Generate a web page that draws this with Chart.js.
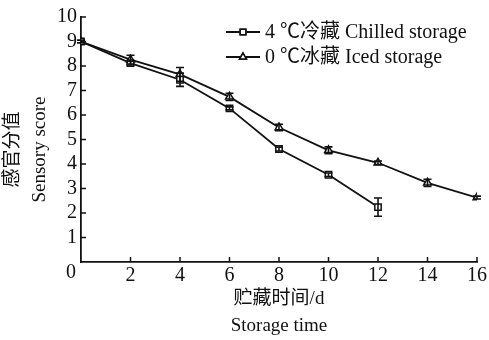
<!DOCTYPE html>
<html>
<head>
<meta charset="utf-8">
<script src="https://cdn.jsdelivr.net/npm/chart.js@4/dist/chart.umd.min.js"></script>
<style>
  html, body { margin: 0; padding: 0; background: #fff; }
  #wrap { width: 489px; height: 340px; }
</style>
</head>
<body>
<div id="wrap"><canvas id="sensoryChart"></canvas></div>
<script>
// data
const days = [0, 2, 4, 6, 8, 10, 12, 14, 16];
const chilledScore = [9.0, 8.12, 7.44, 6.27, 4.61, 3.56, 2.24];
const chilledErr = [0.05, 0.08, 0.27, 0.06, 0.08, 0.07, 0.37];
const icedScore = [9.0, 8.26, 7.66, 6.74, 5.49, 4.56, 4.05, 3.23, 2.63];
const icedErr = [0.05, 0.18, 0.28, 0.15, 0.13, 0.14, 0.07, 0.15, 0.06];
const seriesLabels = ["4 ℃冷藏 Chilled storage", "0 ℃冰藏 Iced storage"];
const yTitle = ["感官分值", "Sensory score"];
const xTicks = [0, 2, 4, 6, 8, 10, 12, 14, 16];
const yTicks = [0, 1, 2, 3, 4, 5, 6, 7, 8, 9, 10];

const FONT = "'Liberation Serif', 'Noto Sans CJK SC', serif";
const INK = "#111";

function toPoints(vals) {
  return vals.map((v, i) => ({ x: days[i], y: v }));
}

// error bars, inside ticks, corner "0", y title and the legend
const extrasPlugin = {
  id: "extras",
  afterDatasetsDraw(chart) {
    const ctx = chart.ctx;
    const xs = chart.scales.x, ys = chart.scales.y;
    const area = chart.chartArea;
    ctx.save();
    ctx.strokeStyle = INK;
    ctx.lineWidth = 1.6;

    // error bars
    [chilledErr, icedErr].forEach((errs, di) => {
      const vals = di === 0 ? chilledScore : icedScore;
      errs.forEach((e, i) => {
        const px = xs.getPixelForValue(days[i]);
        const top = ys.getPixelForValue(vals[i] + e);
        const bot = ys.getPixelForValue(vals[i] - e);
        ctx.beginPath();
        ctx.moveTo(px, top); ctx.lineTo(px, bot);
        ctx.moveTo(px - 4, top); ctx.lineTo(px + 4, top);
        ctx.moveTo(px - 4, bot); ctx.lineTo(px + 4, bot);
        ctx.stroke();
      });
    });

    // inward tick marks
    ctx.lineWidth = 1.5;
    xTicks.slice(1).forEach(t => {
      const px = xs.getPixelForValue(t);
      ctx.beginPath();
      ctx.moveTo(px, area.bottom); ctx.lineTo(px, area.bottom - 5);
      ctx.stroke();
    });
    yTicks.slice(1).forEach(t => {
      const py = ys.getPixelForValue(t);
      ctx.beginPath();
      ctx.moveTo(area.left, py); ctx.lineTo(area.left + 5, py);
      ctx.stroke();
    });

    // shared origin label
    ctx.fillStyle = INK;
    ctx.font = "20px " + FONT;
    ctx.textAlign = "center";
    ctx.textBaseline = "middle";
    ctx.fillText("0", area.left - 10, area.bottom + 11);

    // y title, two rotated lines
    ctx.save();
    ctx.translate(0, (area.top + area.bottom) / 2 + 10);
    ctx.rotate(-Math.PI / 2);
    ctx.font = "19px " + FONT;
    ctx.fillText(yTitle[0], 0, 13);
    ctx.fillText(yTitle[1], 0, 40);
    ctx.restore();

    // legend
    const lx = 226, rowY = [32, 57];
    ctx.font = "20px " + FONT;
    chart.data.datasets.forEach((ds, i) => {
      const y = rowY[i];
      ctx.beginPath();
      ctx.lineWidth = 1.8;
      ctx.moveTo(lx, y); ctx.lineTo(lx + 34, y);
      ctx.stroke();
      ctx.lineWidth = 1.5;
      Chart.helpers.drawPoint(ctx, {
        pointStyle: ds.pointStyle, radius: ds.pointRadius - 0.5,
        borderWidth: 1.5
      }, lx + 17, y);
      ctx.fillStyle = "#fff";
      ctx.fill();
      ctx.stroke();
      ctx.fillStyle = INK;
      ctx.textAlign = "left";
      ctx.fillText(ds.label, lx + 39, y + 1);
    });
    ctx.restore();
  }
};

const ctx = document.getElementById("sensoryChart").getContext("2d");
new Chart(ctx, {
  type: "line",
  data: {
    datasets: [{
      label: seriesLabels[0],
      data: toPoints(chilledScore),
      borderColor: INK,
      borderWidth: 1.8,
      pointStyle: "rect",
      pointRadius: 4.5,
      pointBackgroundColor: "#fff",
      pointBorderColor: INK,
      pointBorderWidth: 1.5,
      tension: 0
    }, {
      label: seriesLabels[1],
      data: toPoints(icedScore),
      borderColor: INK,
      borderWidth: 1.8,
      pointStyle: "triangle",
      pointRadius: 4.5,
      pointBackgroundColor: "#fff",
      pointBorderColor: INK,
      pointBorderWidth: 1.5,
      tension: 0
    }]
  },
  options: {
    responsive: true,
    maintainAspectRatio: false,
    animation: false,
    layout: { padding: { top: 17, right: 12, left: 0, bottom: 0 } },
    plugins: {
      legend: { display: false },
      tooltip: { enabled: false }
    },
    scales: {
      x: {
        type: "linear",
        min: 0,
        max: 16,
        afterBuildTicks: s => { s.ticks = xTicks.map(v => ({ value: v })); },
        afterFit: s => { s.height = 78; },
        grid: { display: false, drawTicks: false },
        border: { display: true, color: INK, width: 1.8 },
        ticks: {
          color: INK,
          padding: 2,
          autoSkip: false,
          maxRotation: 0,
          font: { family: FONT, size: 20 },
          callback: v => (v === 0 ? "" : v)
        },
        title: {
          display: true,
          text: ["贮藏时间/d", "Storage time"],
          color: INK,
          font: { family: FONT, size: 19, lineHeight: 1.45 },
          padding: { top: 4, bottom: 0 }
        }
      },
      y: {
        min: 0,
        max: 10,
        afterBuildTicks: s => { s.ticks = yTicks.map(v => ({ value: v })); },
        afterFit: s => { s.width = 81; },
        grid: { display: false, drawTicks: false },
        border: { display: true, color: INK, width: 1.8 },
        ticks: {
          color: INK,
          padding: 4,
          autoSkip: false,
          font: { family: FONT, size: 20 },
          callback: v => (v === 0 ? "" : v)
        }
      }
    }
  },
  plugins: [extrasPlugin]
});
</script>
</body>
</html>
